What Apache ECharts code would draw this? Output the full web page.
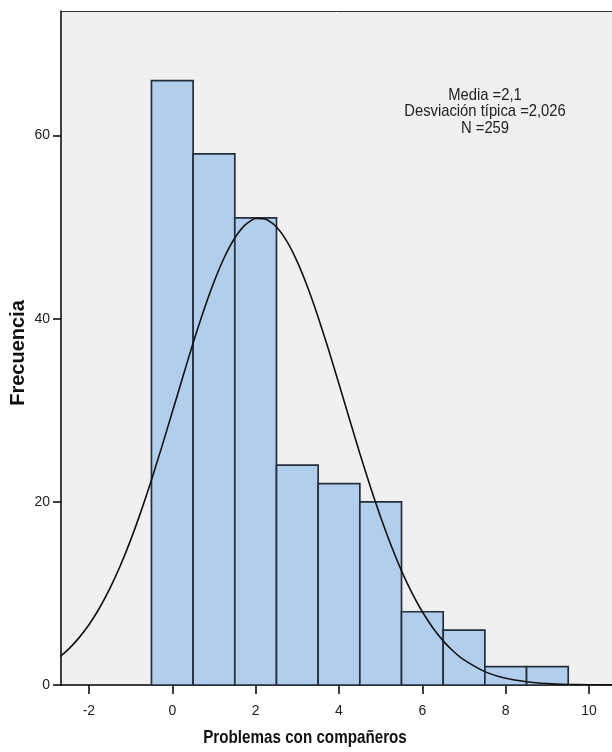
<!DOCTYPE html>
<html>
<head>
<meta charset="utf-8">
<script src="https://cdn.jsdelivr.net/npm/echarts@6/dist/echarts.min.js"></script>
<style>
  html, body { margin: 0; padding: 0; background: #ffffff; }
  #chart { width: 612px; height: 752px; }
</style>
</head>
<body>
<div id="chart"></div>
<script>
// Histogram bins: centre of each unit-wide bin and its frequency
const binCenters = [0, 1, 2, 3, 4, 5, 6, 7, 8, 9];
const frequencies = [66, 58, 51, 24, 22, 20, 8, 6, 2, 2];

// Fitted normal curve, sampled every quarter unit
const curveX = [-3, -2.75, -2.5, -2.25, -2, -1.75, -1.5, -1.25, -1, -0.75, -0.5, -0.25,
  0, 0.25, 0.5, 0.75, 1, 1.25, 1.5, 1.75, 2, 2.25, 2.5, 2.75, 3, 3.25, 3.5, 3.75,
  4, 4.25, 4.5, 4.75, 5, 5.25, 5.5, 5.75, 6, 6.25, 6.5, 6.75, 7, 7.5, 8, 8.5, 9, 9.5, 10, 10.5, 11];
const curveY = [2.15, 2.91, 3.87, 5.09, 6.58, 8.38, 10.52, 13.00, 15.82, 18.96, 22.38, 26.03,
  29.80, 33.61, 37.34, 40.85, 44.01, 46.71, 48.81, 50.24, 50.94, 50.86, 50.02, 48.44, 46.21, 43.41, 40.17, 36.61,
  32.86, 29.04, 25.29, 21.68, 18.31, 15.23, 12.47, 10.06, 8.00, 6.26, 4.82, 3.66, 2.74, 1.46, 0.73, 0.35, 0.15, 0.06, 0.03, 0.01, 0.0];

// Axis tick labels
const xTicks = [-2, 0, 2, 4, 6, 8, 10];
const yTicks = [0, 20, 40, 60];

// Titles and summary statistics
const xTitle = 'Problemas con compañeros';
const yTitle = 'Frecuencia';
const statLines = ['Media =2,1', 'Desviación típica =2,026', 'N =259'];

const FONT = '"Liberation Sans", Arial, sans-serif';

const chart = echarts.init(document.getElementById('chart'), null, { renderer: 'canvas' });

const barData = binCenters.map((c, i) => [c, frequencies[i]]);
const curveData = curveX.map((x, i) => [x, curveY[i]]);

const X_MIN = -2.67, X_MAX = 10.55;

chart.setOption({
  animation: false,
  backgroundColor: '#ffffff',
  grid: {
    left: 61, right: 0, top: 11, bottom: 67,
    show: true, backgroundColor: '#f0f0f0', borderWidth: 0
  },
  xAxis: [{
    type: 'value', min: X_MIN, max: X_MAX,
    axisLine: { show: true, onZero: false, lineStyle: { color: '#000', width: 1.5 } },
    axisTick: { show: true, length: 9, customValues: xTicks, lineStyle: { color: '#000', width: 1.5 } },
    axisLabel: { customValues: xTicks, color: '#222', fontSize: 14, fontFamily: FONT, margin: 19 },
    splitLine: { show: false }
  }, {
    type: 'value', position: 'top', min: X_MIN, max: X_MAX,
    axisLine: { show: true, onZero: false, lineStyle: { color: '#333', width: 1 } },
    axisTick: { show: false }, axisLabel: { show: false }, splitLine: { show: false }
  }],
  yAxis: {
    type: 'value', min: 0, max: 73.6,
    axisLine: { show: true, onZero: false, lineStyle: { color: '#000', width: 1.5 } },
    axisTick: { show: true, length: 8, customValues: yTicks, lineStyle: { color: '#000', width: 1.5 } },
    axisLabel: { customValues: yTicks, color: '#222', fontSize: 14, fontFamily: FONT, margin: 11 },
    splitLine: { show: false }
  },
  series: [{
    type: 'custom',
    data: barData,
    renderItem: function (params, api) {
      const c = api.value(0);
      const v = api.value(1);
      const p0 = api.coord([c - 0.5, v]);
      const p1 = api.coord([c + 0.5, 0]);
      return {
        type: 'rect',
        shape: { x: p0[0], y: p0[1], width: p1[0] - p0[0], height: p1[1] - p0[1] },
        style: { fill: '#b1cfed', stroke: '#262e3c', lineWidth: 1.7 }
      };
    },
    z: 2
  }, {
    type: 'line',
    data: curveData,
    smooth: 0.2,
    symbol: 'none',
    lineStyle: { color: '#111', width: 1.6 },
    z: 3
  }],
  graphic: [
    {
      type: 'text', x: 305, y: 738, scaleX: 0.8,
      style: { text: xTitle, fill: '#111', font: 'bold 19px ' + FONT, align: 'center', verticalAlign: 'middle' }
    },
    {
      type: 'text', x: 18, y: 353, rotation: Math.PI / 2,
      style: { text: yTitle, fill: '#111', font: 'bold 20px ' + FONT, align: 'center', verticalAlign: 'middle' }
    }
  ].concat(statLines.map((t, i) => ({
    type: 'text',
    x: 485, y: 95 + i * 16.5, scaleX: 0.87,
    style: { text: t, fill: '#222', font: '17px ' + FONT, align: 'center', verticalAlign: 'middle' }
  })))
});
</script>
</body>
</html>
